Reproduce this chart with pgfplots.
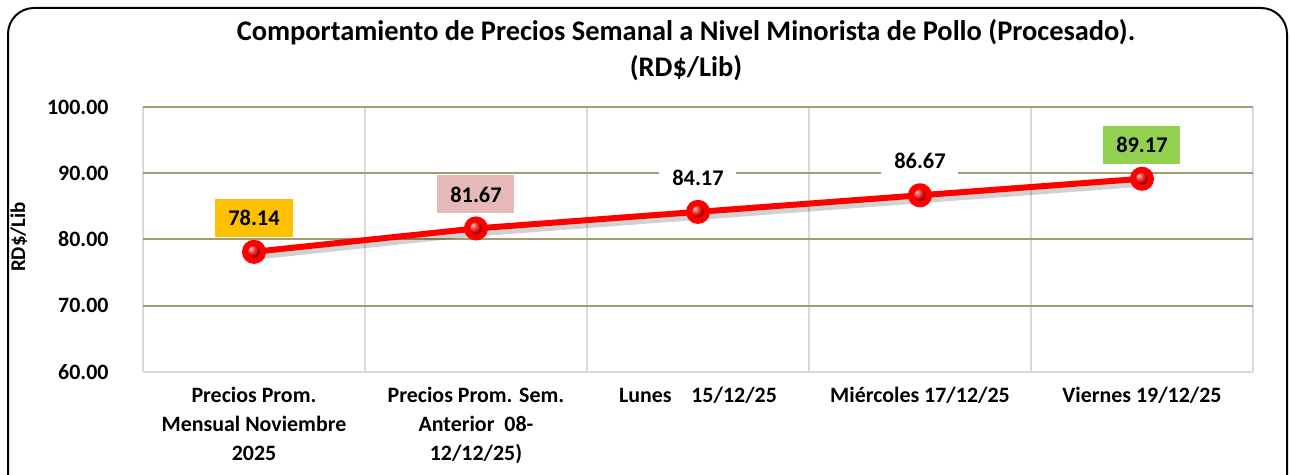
\documentclass[border=0pt]{standalone}
\usepackage{fontspec}
\setmainfont{Carlito}
\usepackage{pgfplots}
\pgfplotsset{compat=1.18}
\definecolor{gridolive}{HTML}{A29C70}
\definecolor{gridgray}{HTML}{D9D9D9}
\definecolor{labA}{HTML}{FFC000}
\definecolor{labB}{HTML}{E6B9B8}
\definecolor{labE}{HTML}{92D050}
\pgfplotstableread{
x y
0 78.14
1 81.67
2 84.17
3 86.67
4 89.17
}\datatable
\begin{document}
\begin{tikzpicture}[x=1bp,y=1bp]
\useasboundingbox (0,0) rectangle (1291,475);
\fill[white] (0,0) rectangle (1291,475);
\draw[line width=2bp, rounded corners=26bp] (8,-30) rectangle (1287,467);
\node[font=\bfseries\fontsize{28.5}{32}\selectfont] at (686,443) {Comportamiento de Precios Semanal a Nivel Minorista de Pollo (Procesado).};
\node[font=\bfseries\fontsize{28.5}{32}\selectfont] at (686,407) {(RD\$/Lib)};
\node[font=\bfseries\fontsize{21}{24}\selectfont, rotate=90] at (19,238) {RD\$/Lib};
\begin{axis}[
  at={(143bp,103bp)}, anchor=south west,
  scale only axis, width=1110bp, height=265bp,
  xmin=-0.5, xmax=4.5, ymin=60, ymax=100,
  axis line style={draw=none},
  ytick={70,80,90,100},
  extra y ticks={60},
  extra y tick style={grid style={draw=gridgray, line width=2bp}},
  ymajorgrids,
  grid style={draw=gridolive, line width=2bp},
  minor xtick={-0.5,0.5,1.5,2.5,3.5,4.5},
  xminorgrids,
  minor grid style={draw=gridgray, line width=2bp},
  major tick length=0pt, minor tick length=0pt,
  yticklabel style={/pgf/number format/.cd, fixed, fixed zerofill, precision=2, /tikz/.cd, font=\bfseries\fontsize{22}{26}\selectfont, xshift=-31bp},
  /pgf/number format/assume math mode=true,
  xtick={0,1,2,3,4},
  xticklabels={{Precios Prom.\\Mensual Noviembre\\2025},{Precios Prom. Sem.\\Anterior\ \ 08-\\12/12/25)},{Lunes\hspace{0.9em}15/12/25},{Miércoles 17/12/25},{Viernes 19/12/25}},
  xticklabel style={align=center, font=\bfseries\fontsize{22}{29}\selectfont, yshift=-12bp},
  clip=false,
  lbl/.style={draw=none, mark=none, forget plot, nodes near coords, point meta=y,
    nodes near coords style={anchor=center, yshift=34bp, fill=#1, minimum width=77bp, minimum height=38bp, inner sep=0pt, text=black, font=\bfseries\fontsize{22.5}{26}\selectfont, /pgf/number format/.cd, fixed, fixed zerofill, precision=2, assume math mode=true}},
]
\addplot[draw=black, opacity=0.18, line width=6bp, forget plot, yshift=-5bp] table[x=x,y=y] {\datatable};
\addplot[draw=red, line width=6bp, mark=ball, mark size=9bp, mark options={ball color=red, draw=none}] table[x=x,y=y] {\datatable};
\addplot[lbl=labA, skip coords between index={1}{5}] table[x=x,y=y] {\datatable};
\addplot[lbl=labB, skip coords between index={0}{1}, skip coords between index={2}{5}] table[x=x,y=y] {\datatable};
\addplot[lbl=white, skip coords between index={0}{2}, skip coords between index={4}{5}] table[x=x,y=y] {\datatable};
\addplot[lbl=labE, skip coords between index={0}{4}] table[x=x,y=y] {\datatable};
\end{axis}
\end{tikzpicture}
\end{document}
